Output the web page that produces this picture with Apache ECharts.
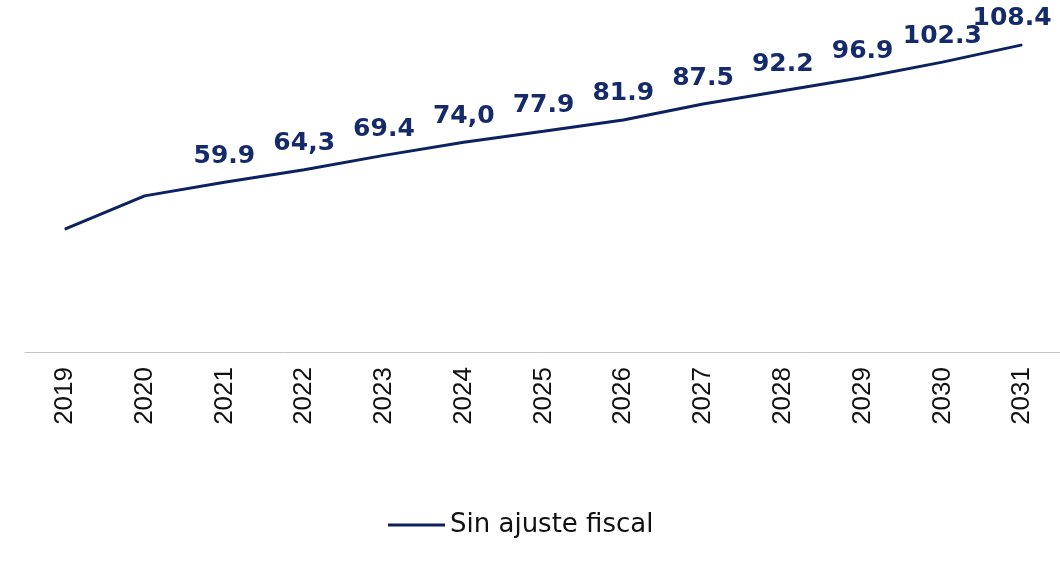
<!DOCTYPE html>
<html>
<head>
<meta charset="UTF-8">
<title>Sin ajuste fiscal</title>
<script src="https://cdn.jsdelivr.net/npm/echarts@6/dist/echarts.min.js"></script>
<style>
  html, body { margin: 0; padding: 0; background: #fff; }
  #main { width: 1060px; height: 565px; }
</style>
</head>
<body>
<div id="main"></div>
<script>
// datos
var years = ['2019', '2020', '2021', '2022', '2023', '2024', '2025', '2026', '2027', '2028', '2029', '2030', '2031'];
var sinAjuste = [43.4, 55.1, 59.9, 64.3, 69.4, 74.0, 77.9, 81.9, 87.5, 92.2, 96.9, 102.3, 108.4];
var etiquetas = ['', '', '59.9', '64,3', '69.4', '74,0', '77.9', '81.9', '87.5', '92.2', '96.9', '102.3', '108.4'];

var navy = '#0c2260';
var chart = echarts.init(document.getElementById('main'));

var option = {
  animation: false,
  grid: { left: 25, width: 1037, top: 12, height: 340, containLabel: false, outerBoundsMode: 'none' },
  legend: {
    bottom: 22,
    left: 383,
    data: ['Sin ajuste fiscal'],
    icon: 'rect',
    itemWidth: 57,
    itemHeight: 3,
    textStyle: { fontFamily: 'DejaVu Sans', fontSize: 26, color: '#111' }
  },
  xAxis: {
    type: 'category',
    data: years,
    boundaryGap: true,
    axisLine: { lineStyle: { color: '#c4c4c4', width: 1 } },
    axisTick: { show: false },
    axisLabel: {
      rotate: 90,
      margin: 15,
      fontFamily: 'Liberation Sans',
      fontSize: 26,
      color: '#111'
    }
  },
  yAxis: { type: 'value', min: 0, max: 120, show: false, splitLine: { show: false } },
  series: [{
    name: 'Sin ajuste fiscal',
    type: 'line',
    data: sinAjuste.map(function (v, i) {
      // la última etiqueta va algo a la izquierda para que quepa
      return i === sinAjuste.length - 1 ? { value: v, label: { offset: [-10, 0] } } : v;
    }),
    symbol: 'circle',
    symbolSize: 1,
    showSymbol: true,
    lineStyle: { color: navy, width: 3 },
    itemStyle: { color: navy },
    label: {
      show: true,
      position: 'top',
      distance: 13,
      fontFamily: 'DejaVu Sans',
      fontWeight: 'bold',
      fontSize: 25,
      color: '#142a6a',
      formatter: function (p) { return etiquetas[p.dataIndex]; }
    }
  }]
};

chart.setOption(option);
</script>
</body>
</html>
